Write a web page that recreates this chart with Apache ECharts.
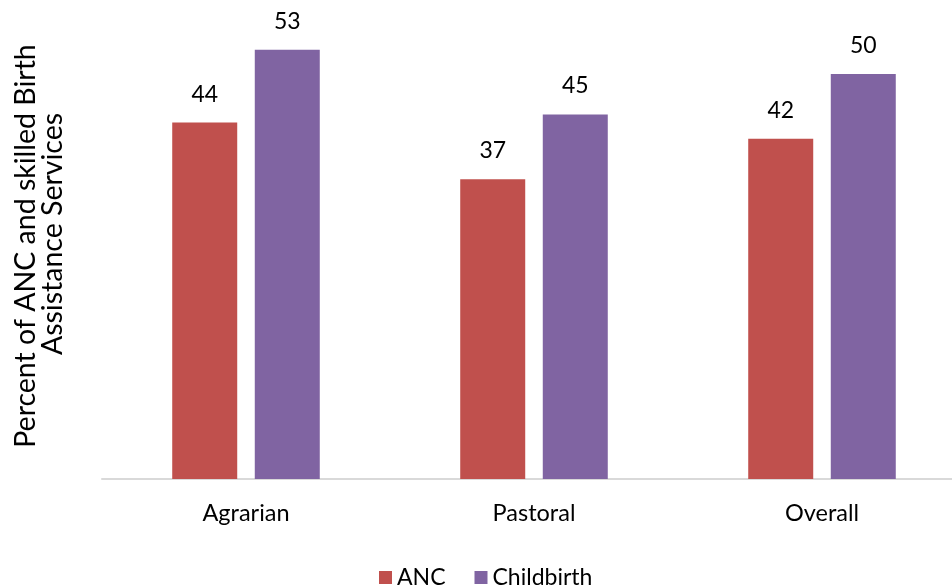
<!DOCTYPE html>
<html>
<head>
<meta charset="utf-8">
<script src="https://cdn.jsdelivr.net/npm/echarts@6/dist/echarts.min.js"></script>
<style>
html,body{margin:0;padding:0;background:#fff;}
#chart{width:952px;height:588px;}
</style>
</head>
<body>
<div id="chart"></div>
<script>
const categories = ['Agrarian', 'Pastoral', 'Overall'];
const seriesNames = ['ANC', 'Childbirth'];
const ancValues = [44, 37, 42];
const childbirthValues = [53, 45, 50];
const yTitleLines = ['Percent of ANC and skilled Birth', 'Assistance Services'];

const FONT = 'Lato';
const chart = echarts.init(document.getElementById('chart'), null, {renderer: 'canvas'});
const labelStyle = {show: true, position: 'top', distance: 17, color: '#000', fontFamily: FONT, fontSize: 23};
chart.setOption({
  animation: false,
  backgroundColor: '#fff',
  grid: {left: 102, width: 864, top: 33.5, bottom: 109, containLabel: false, outerBoundsMode: 'none'},
  legend: {
    data: seriesNames,
    top: 566,
    left: 379,
    padding: 0,
    icon: 'rect',
    itemWidth: 13,
    itemHeight: 13,
    itemGap: 29,
    textStyle: {fontFamily: FONT, fontSize: 23, color: '#000', lineHeight: 22}
  },
  xAxis: {
    type: 'category',
    data: categories,
    axisLine: {lineStyle: {color: '#d9d9d9', width: 2}},
    axisTick: {show: false},
    axisLabel: {fontFamily: FONT, fontSize: 23.5, color: '#000', margin: 22}
  },
  yAxis: {
    type: 'value',
    min: 0,
    max: 55,
    show: false,
    splitLine: {show: false}
  },
  graphic: [
    {type: 'text', x: 26, y: 246, rotation: Math.PI / 2,
     style: {text: yTitleLines[0], fontFamily: FONT, fontSize: 28.5, fill: '#000', align: 'center', verticalAlign: 'middle'}},
    {type: 'text', x: 53, y: 234, rotation: Math.PI / 2,
     style: {text: yTitleLines[1], fontFamily: FONT, fontSize: 28.5, fill: '#000', align: 'center', verticalAlign: 'middle'}}
  ],
  series: [
    {name: seriesNames[0], type: 'bar', data: ancValues, barWidth: 65, barGap: '27%',
     itemStyle: {color: '#C0504D'}, label: labelStyle},
    {name: seriesNames[1], type: 'bar', data: childbirthValues, barWidth: 65, barGap: '27%',
     itemStyle: {color: '#8064A2'}, label: labelStyle}
  ]
});
</script>
</body>
</html>
